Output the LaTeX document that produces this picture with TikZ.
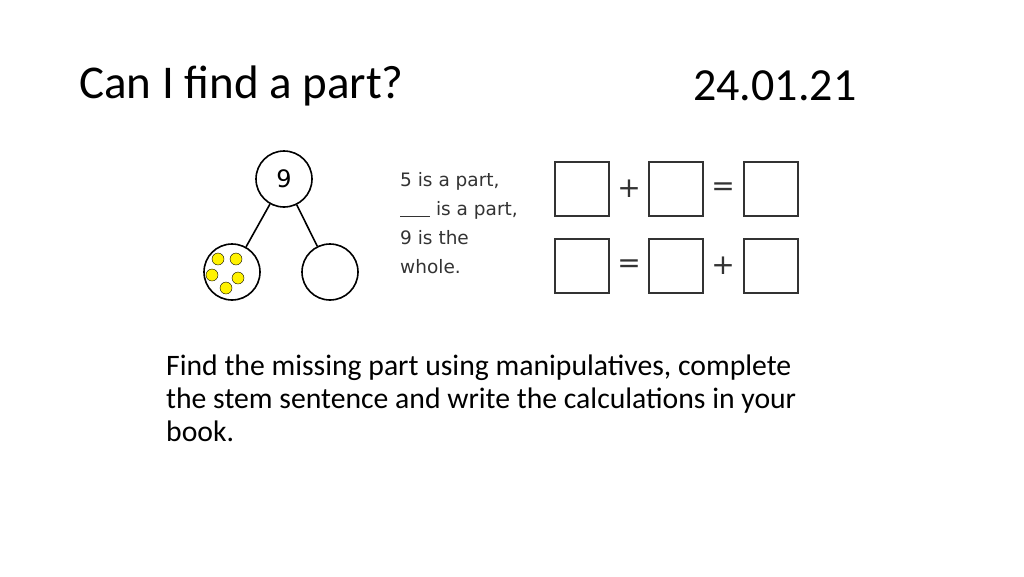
\documentclass[tikz,border=0pt]{standalone}
\usepackage{fontspec}
\setmainfont{Carlito}
\newfontfamily\sheetfont{DejaVu Sans}
\begin{document}
\begin{tikzpicture}[x=1pt,y=-1pt,
  partcircle/.style={draw,line width=1.6pt,circle,minimum size=56pt,inner sep=0pt},
  counter/.style={draw,fill=yellow,circle,minimum size=12pt,inner sep=0pt},
  answerbox/.style={draw,line width=1.3pt,gray!40!black,minimum size=54pt,inner sep=0pt},
  operator/.style={font=\sheetfont\fontsize{28}{28}\selectfont,text=black!80},
  sheet/.style={font=\sheetfont\fontsize{18.5}{29}\selectfont,text=black!80,align=left,anchor=north west,inner sep=0pt}]
  \useasboundingbox (0,0) rectangle (1024,576);
  % Title and date
  \node[anchor=west,inner sep=0pt,font=\fontsize{47}{50}\selectfont] (title) at (79,86) {Can I find a part?};
  \node[anchor=west,inner sep=0pt,font=\fontsize{46}{50}\selectfont] (date) at (693,86) {24.01.21};
  % Part-whole model
  \node[partcircle,font=\sheetfont\fontsize{24}{24}\selectfont] (whole) at (284,179) {9};
  \node[partcircle] (partA) at (232,272) {};
  \node[partcircle] (partB) at (330,272) {};
  \draw[line width=1.6pt] (whole) -- (partA);
  \draw[line width=1.6pt] (whole) -- (partB);
  \foreach \px/\py [count=\i] in {218/259,236/259,212/275,238/278,226/288}
    \node[counter] (dot\i) at (\px,\py) {};
  % Stem sentence
  \node[sheet] (stem) at (400,172) {5 is a part,\\\underline{\hspace{30pt}} is a part,\\9 is the\\whole.};
  % Calculation boxes
  \foreach \row/\yy/\opA/\opB in {1/189/+/=,2/266/=/+} {
    \node[answerbox] (box\row a) at (582,\yy) {};
    \node[answerbox] (box\row b) at (676,\yy) {};
    \node[answerbox] (box\row c) at (771,\yy) {};
    \node[operator] (op\row a) at (629,\yy) {\opA};
    \node[operator] (op\row b) at (723,\yy) {\opB};
  }
  % Instructions
  \node[anchor=north west,inner sep=0pt,align=left,font=\fontsize{29.7}{33}\selectfont] (task) at (166,355)
    {Find the missing part using manipulatives, complete\\the stem sentence and write the calculations in your\\book.};
\end{tikzpicture}
\end{document}
